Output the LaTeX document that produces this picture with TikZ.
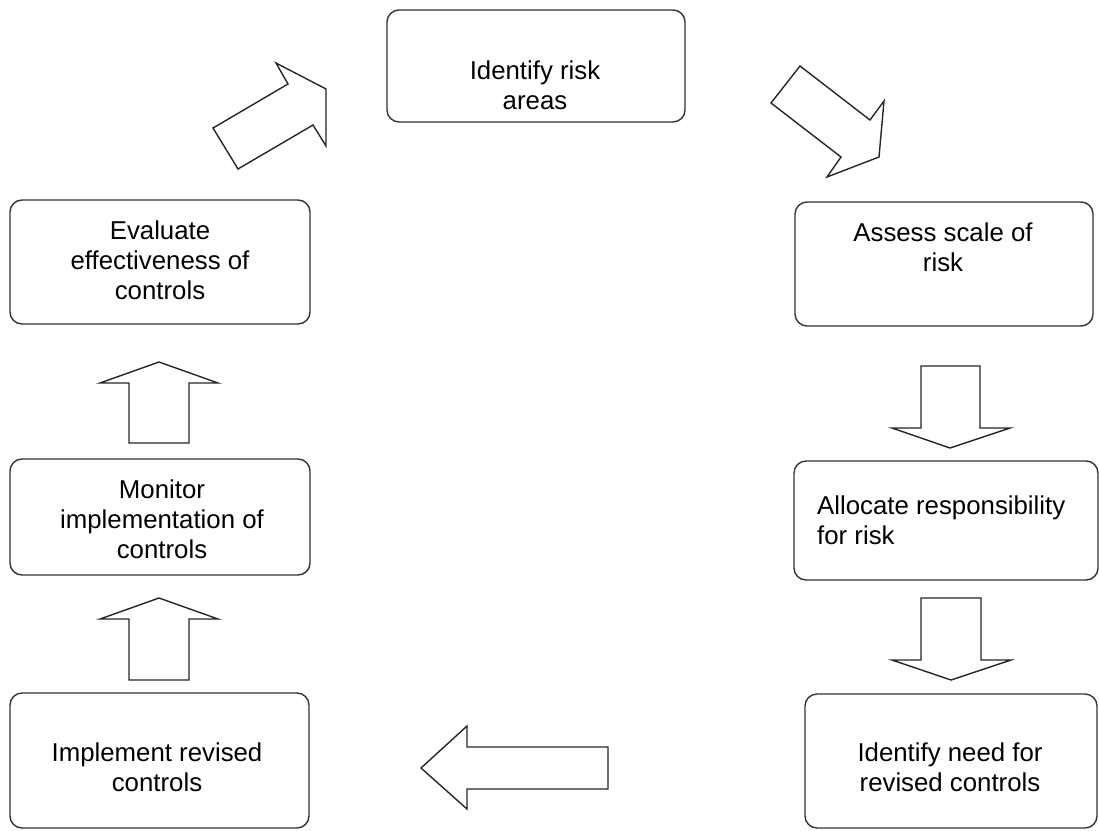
\documentclass[tikz,border=0pt]{standalone}
\usepackage{fontspec}
\setmainfont{Liberation Sans}
\usepackage{xcolor}

\tikzset{
  box/.style={draw=black!80,line width=1.4pt,rounded corners=12},
  blockarrow/.style={draw=black!85,line width=1.4pt,fill=white,line join=miter},
  label/.style={align=center,inner sep=0pt,font=\fontsize{25.8}{29.8}\selectfont}
}

\begin{document}
\begin{tikzpicture}[x=1pt,y=-1pt]
\useasboundingbox (0,0) rectangle (1099,830);
\draw[box] (387,10) rectangle (685,122);
\node[label] (areas) at (535,85) {Identify risk\\areas};
\draw[box] (795,202) rectangle (1093,326);
\node[label] (assess) at (943,247) {Assess scale of\\risk};
\draw[box] (794,461) rectangle (1098,580);
\node[label,align=left,anchor=west] (allocate) at (817,520) {Allocate responsibility\\for risk};
\draw[box] (805,694) rectangle (1097,828);
\node[label] (need) at (950,767) {Identify need for\\revised controls};
\draw[box] (10,693) rectangle (309,828);
\node[label] (implement) at (157,767) {Implement revised\\controls};
\draw[box] (10,459) rectangle (310,575);
\node[label] (monitor) at (162,519) {Monitor\\implementation of\\controls};
\draw[box] (10,200) rectangle (310,324);
\node[label] (evaluate) at (160,260) {Evaluate\\effectiveness of\\controls};
\draw[blockarrow] (213,128) -- (288,84) -- (276,63) -- (326,89) -- (326,146) -- (313,125) -- (238,169) -- cycle;
\draw[blockarrow] (771,103) -- (800,66) -- (870,120) -- (884,101) -- (879,157) -- (827,177) -- (841,157) -- cycle;
\draw[blockarrow] (921,366) -- (980,366) -- (980,428) -- (1010,428) -- (950,448) -- (892,428) -- (921,428) -- cycle;
\draw[blockarrow] (921,598) -- (981,598) -- (981,660) -- (1011,660) -- (951,680) -- (892,660) -- (921,660) -- cycle;
\draw[blockarrow] (608,747) -- (608,789) -- (467,789) -- (467,809) -- (421,768) -- (467,726) -- (467,747) -- cycle;
\draw[blockarrow] (129,680) -- (129,619) -- (100,619) -- (159,598) -- (218,619) -- (189,619) -- (189,680) -- cycle;
\draw[blockarrow] (129,443) -- (129,383) -- (100,383) -- (159,362) -- (218,383) -- (189,383) -- (189,443) -- cycle;
\end{tikzpicture}
\end{document}
